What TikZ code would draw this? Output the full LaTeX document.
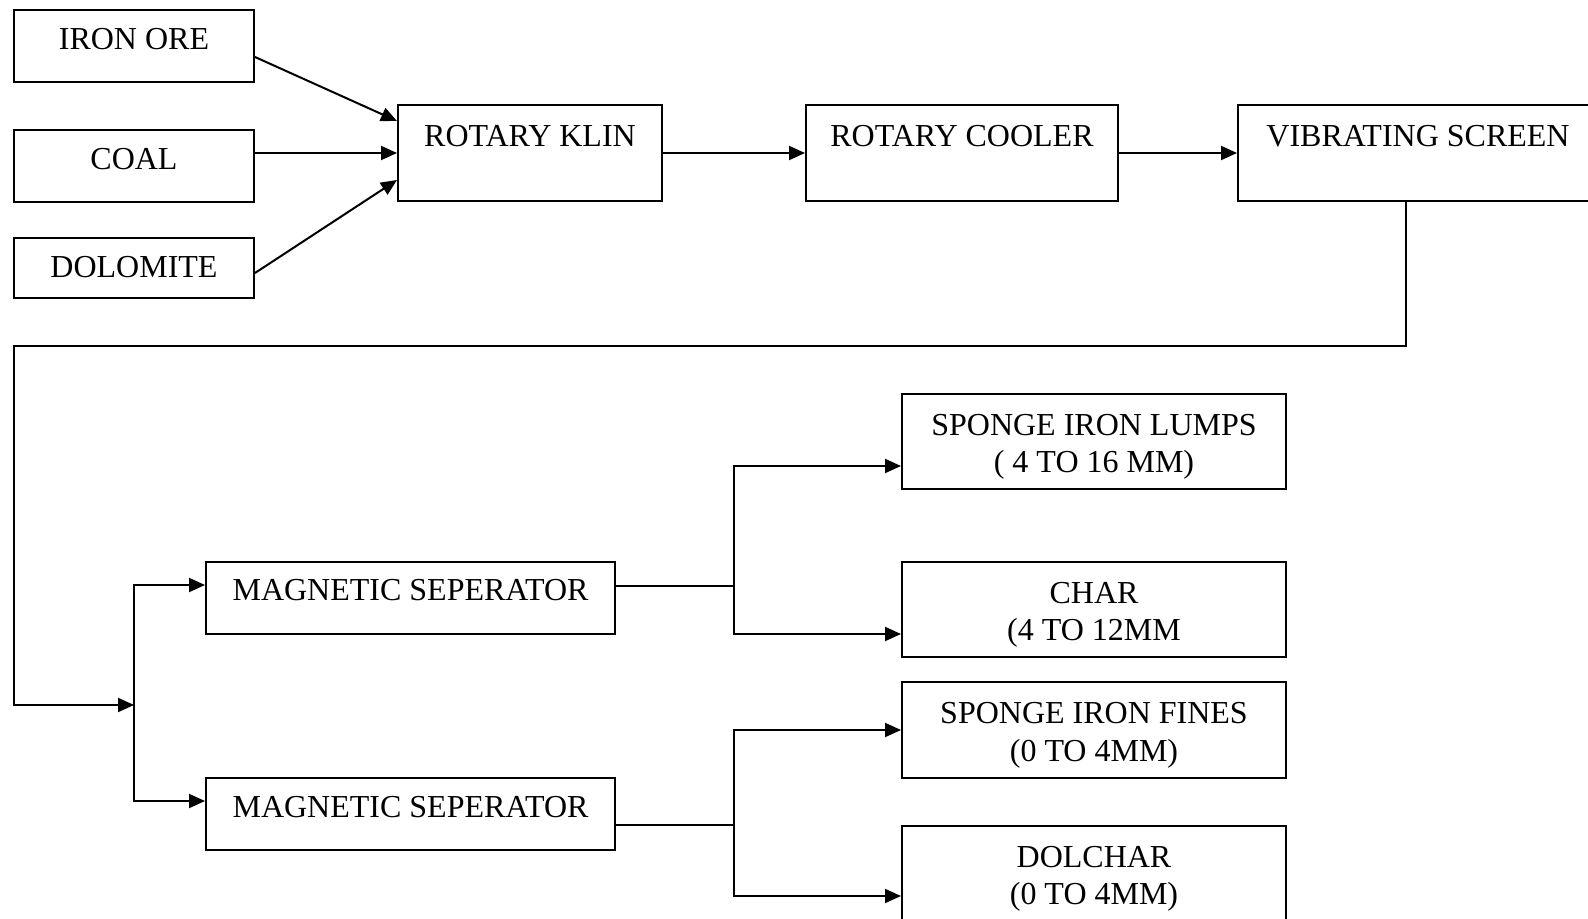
\documentclass[tikz,border=0pt]{standalone}
\usepackage{fontspec}
\setmainfont{Liberation Serif}
\usetikzlibrary{arrows.meta}
\newcommand{\lowerfirst}{\rule{0pt}{16pt}}
\tikzset{
  box/.style={draw, line width=1pt, inner sep=0pt, rectangle, font=\fontsize{16pt}{18.75pt}\selectfont},
  boxtwo/.style={box, align=center, minimum width=192pt},
  arr/.style={-{Triangle[length=8pt,width=7pt]}, line width=1pt},
  ln/.style={line width=1pt}
}
\begin{document}
\begin{tikzpicture}[x=0.5pt,y=-0.5pt]
\useasboundingbox (0,0) rectangle (1588,919);
\node[box, minimum width=120pt, text height=20pt, text depth=16pt] (iron) at (134,46) {IRON ORE};
\node[box, minimum width=120pt, text height=19.75pt, text depth=16.25pt] (coal) at (134,166) {COAL};
\node[box, minimum width=120pt, text height=19.75pt, text depth=10.25pt] (dolo) at (134,268) {DOLOMITE};
\node[box, minimum width=132pt, text height=20.75pt, text depth=27.25pt] (klin) at (530,153) {ROTARY KLIN};
\node[box, minimum width=156pt, text height=20.75pt, text depth=27.25pt] (cooler) at (962,153) {ROTARY COOLER};
\node[box, minimum width=180pt, text height=20.75pt, text depth=27.25pt] (vib) at (1418,153) {VIBRATING SCREEN};
\node[box, minimum width=204.5pt, text height=19.25pt, text depth=16.75pt] (ms1) at (410.5,598) {MAGNETIC SEPERATOR};
\node[box, minimum width=204.5pt, text height=19.75pt, text depth=16.25pt] (ms2) at (410.5,814) {MAGNETIC SEPERATOR};
\node[boxtwo, minimum height=47.5pt] (sil) at (1094,441.5) {\lowerfirst SPONGE IRON LUMPS\\( 4 TO 16 MM)};
\node[boxtwo, minimum height=47.5pt] (char) at (1094,609.5) {\lowerfirst CHAR\\(4 TO 12MM};
\node[boxtwo, minimum height=48pt] (sif) at (1094,730) {\lowerfirst SPONGE IRON FINES\\(0 TO 4MM)};
\node[boxtwo, minimum height=47.5pt] (dolchar) at (1094,873.5) {\lowerfirst DOLCHAR\\(0 TO 4MM)};

\draw[arr] ([yshift=-5.5pt]iron.east) -- ([yshift=16pt]klin.west);
\draw[arr] (coal.east |- klin.west) -- (klin.west);
\draw[arr] ([yshift=-2.5pt]dolo.east) -- ([yshift=-13.5pt]klin.west);
\draw[arr] (klin.east) -- (cooler.west);
\draw[arr] (cooler.east) -- (vib.west);

\coordinate (j1) at (134,705);
\draw[arr] ([xshift=84.5pt]vib.south west) -- ++(0,144) -| (14,705) -- (j1);
\draw[arr] (j1) |- ([yshift=6.5pt]ms1.west);
\draw[arr] (j1) |- ([yshift=6.5pt]ms2.west);

\coordinate (j2) at (734,586);
\draw[ln] ([yshift=6pt]ms1.east) -- (j2);
\draw[arr] (j2) |- ([yshift=-12.25pt]sil.west);
\draw[arr] (j2) |- ([yshift=-12.25pt]char.west);

\coordinate (j3) at (734,825);
\draw[ln] ([yshift=-5.5pt]ms2.east) -- (j3);
\draw[arr] (j3) |- (sif.west);
\draw[arr] (j3) |- ([yshift=-11.25pt]dolchar.west);
\end{tikzpicture}
\end{document}
